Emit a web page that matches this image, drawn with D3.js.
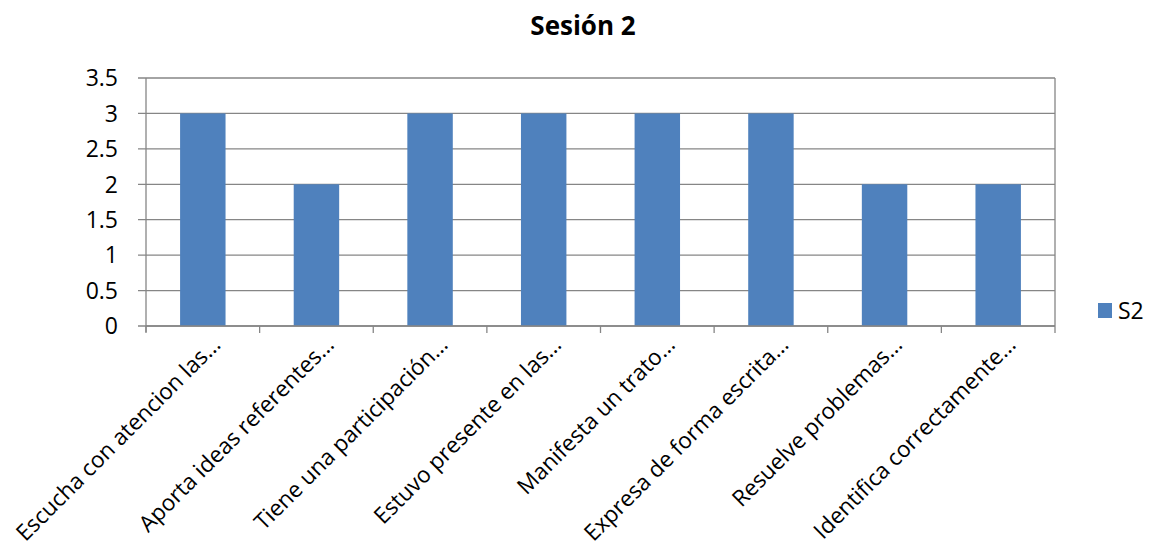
<!DOCTYPE html>
<html><head><meta charset="utf-8">
<script src="https://cdn.jsdelivr.net/npm/d3@7"></script>
<style>body{margin:0;background:#fff}svg{display:block}text{font-family:"Open Sans",sans-serif;fill:#000}</style>
</head><body>
<script>
const categories = ["Escucha con atencion las…","Aporta ideas referentes…","Tiene una participación…","Estuvo presente en las…","Manifesta un trato…","Expresa de forma escrita…","Resuelve problemas…","Identifica correctamente…"];
const values = [3,2,3,3,3,3,2,2];
const yTicks = [0,0.5,1,1.5,2,2.5,3,3.5];
const seriesName = "S2";
const title = "Sesión 2";

const W=1149,H=550, L=146,R=1055,T=78,B=326;
const svg=d3.select("body").append("svg").attr("width",W).attr("height",H);
const x=d3.scaleBand().domain(categories).range([L,R]);
const y=d3.scaleLinear().domain([0,3.5]).range([B,T]);
const gridC="#868686";

// gridlines
svg.append("g").selectAll("line").data(yTicks).join("line")
 .attr("x1",L-8).attr("x2",R).attr("y1",d=>y(d)).attr("y2",d=>y(d))
 .attr("stroke",gridC).attr("stroke-width",1.3);
svg.append("line").attr("x1",R).attr("x2",R).attr("y1",T).attr("y2",B).attr("stroke",gridC).attr("stroke-width",1.3);

// bars
const bw=x.bandwidth()*0.4;
svg.append("g").selectAll("rect").data(values).join("rect")
 .attr("x",(d,i)=>x(categories[i])+x.bandwidth()/2-bw/2)
 .attr("width",bw).attr("y",d=>y(d)).attr("height",d=>B-y(d))
 .attr("fill","#4f81bd");

// y axis
svg.append("line").attr("x1",L).attr("x2",L).attr("y1",T).attr("y2",B+6).attr("stroke",gridC).attr("stroke-width",1.3);
svg.append("g").selectAll("text").data(yTicks).join("text")
 .attr("x",L-28).attr("y",d=>y(d)).attr("dy","0.36em").attr("text-anchor","end")
 .style("font-size","23px").text(d=>d);

// x ticks
const bounds=categories.map(c=>x(c)).concat([R]);
svg.append("g").selectAll("line").data(bounds).join("line")
 .attr("x1",d=>d).attr("x2",d=>d).attr("y1",B).attr("y2",B+7).attr("stroke",gridC).attr("stroke-width",1.3);
svg.append("line").attr("x1",L).attr("x2",R).attr("y1",B).attr("y2",B).attr("stroke",gridC).attr("stroke-width",1.3);

// x labels
svg.append("g").selectAll("text").data(categories).join("text")
 .attr("text-anchor","end")
 .attr("transform",c=>`translate(${x(c)+x.bandwidth()/2+19},${B+20}) rotate(-45)`)
 .style("font-size","22.5px").text(c=>c);

// title
svg.append("text").attr("x",583).attr("y",35).attr("text-anchor","middle")
 .style("font-size","26px").style("font-weight","bold").text(title);

// legend
svg.append("rect").attr("x",1098).attr("y",303).attr("width",14).attr("height",15).attr("fill","#4f81bd");
svg.append("text").attr("x",1118).attr("y",319).style("font-size","23px").text(seriesName);
</script>
</body></html>
